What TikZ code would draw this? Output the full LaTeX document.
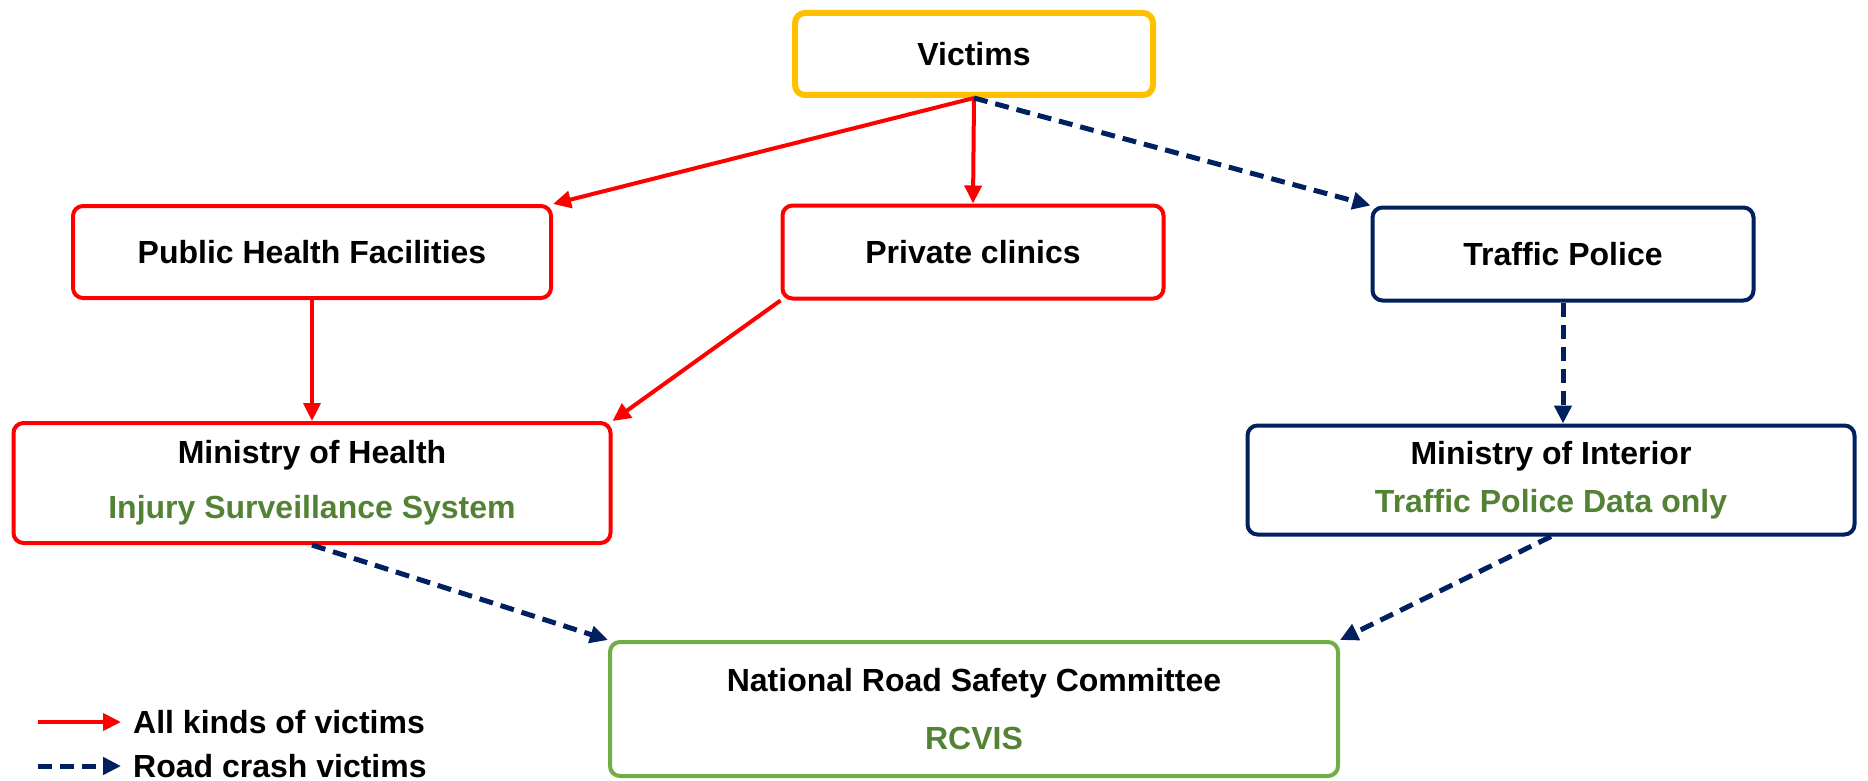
\documentclass[tikz,border=0pt]{standalone}
\usepackage{fontspec}
\setmainfont{Liberation Sans}
\usetikzlibrary{arrows.meta}

\definecolor{boxgold}{HTML}{FFC000}
\definecolor{boxred}{HTML}{FF0000}
\definecolor{boxnavy}{HTML}{002060}
\definecolor{boxgreen}{HTML}{70AD47}
\definecolor{textgreen}{HTML}{548235}

\begin{document}
\begin{tikzpicture}[x=1pt,y=-1pt,
	box/.style={draw,rounded corners=10pt,line width=4pt,align=center,inner sep=0pt,
		font=\fontsize{32}{38}\selectfont\bfseries},
	allvictims/.style={draw=boxred,line width=4pt,-{Triangle[length=18pt,width=17pt]}},
	crashvictims/.style={draw=boxnavy,line width=5pt,dash pattern=on 14pt off 8pt,-{Triangle[length=18pt,width=17pt]}},
	legendtext/.style={anchor=west,inner sep=0pt,font=\fontsize{32}{38}\selectfont\bfseries}]
	\useasboundingbox (0,0) rectangle (1868,781);

	% boxes
	\node [box,draw=boxgold,line width=6pt,minimum width=358pt,minimum height=82pt] (victims) at (974,54) {Victims};
	\node [box,draw=boxred,minimum width=478pt,minimum height=92pt] (phf) at (312,252) {Public Health Facilities};
	\node [box,draw=boxred,minimum width=381pt,minimum height=93pt] (pc) at (973,252) {Private clinics};
	\node [box,draw=boxnavy,minimum width=381pt,minimum height=93pt] (tp) at (1563,254) {Traffic Police};
	\node [box,draw=boxred,minimum width=597pt,minimum height=120pt] (moh) at (312,483) {Ministry of Health\\[17pt]\textcolor{textgreen}{Injury Surveillance System}};
	\node [box,draw=boxnavy,minimum width=607pt,minimum height=109pt] (moi) at (1551,480) {Ministry of Interior\\[10pt]\textcolor{textgreen}{Traffic Police Data only}};
	\node [box,draw=boxgreen,minimum width=728pt,minimum height=134pt] (nrsc) at (974,709) {National Road Safety Committee\\[20pt]\textcolor{textgreen}{RCVIS}};

	% connectors
	\draw [allvictims] (victims.south) -- (phf.north east);
	\draw [allvictims] (victims.south) -- (pc.north);
	\draw [crashvictims] (victims.south) -- (tp.north west);
	\draw [allvictims] (phf.south) -- (moh.north -| phf.south);
	\draw [allvictims] (pc.south west) -- (moh.north east);
	\draw [crashvictims] (tp.south) -- (tp.south |- moi.north);
	\draw [crashvictims] (moh.south) -- (nrsc.north west);
	\draw [crashvictims] (moi.south) -- (nrsc.north east);

	% legend
	\coordinate (allstart) at (38,722);
	\coordinate (allend) at (121,722);
	\coordinate (crashstart) at (38,766);
	\coordinate (crashend) at (121,766);
	\draw [allvictims] (allstart) -- (allend);
	\draw [crashvictims] (crashstart) -- (crashend);
	\node [legendtext] (alltext) at (133,722) {All kinds of victims};
	\node [legendtext] (crashtext) at (133,766) {Road crash victims};
\end{tikzpicture}
\end{document}
